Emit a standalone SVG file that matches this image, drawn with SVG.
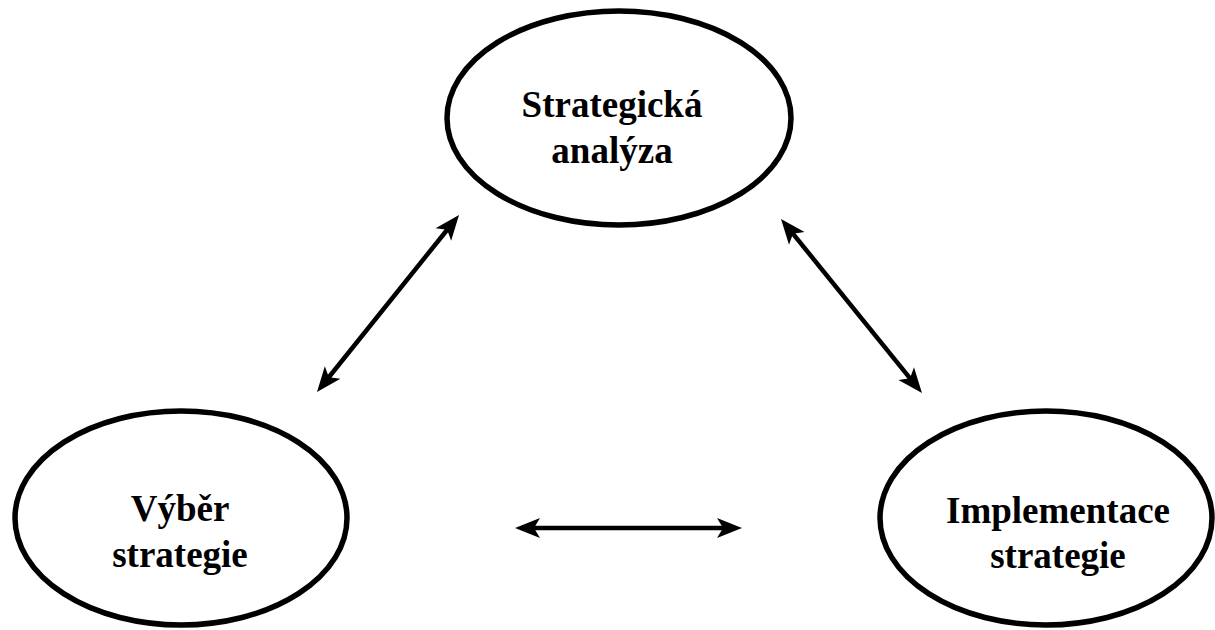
<svg xmlns="http://www.w3.org/2000/svg" width="1215" height="630" viewBox="0 0 1215 630">
<style>
.node ellipse{fill:#fff;stroke:#000;stroke-width:5.5}
.node text{font-family:"Liberation Serif","Times New Roman",serif;font-weight:bold;font-size:37px;fill:#000;text-anchor:middle}
.conn line{stroke:#000;stroke-width:4.5;marker-start:url(#ah);marker-end:url(#ah)}
</style>
<defs>
<marker id="ah" markerUnits="userSpaceOnUse" markerWidth="40" markerHeight="40" refX="0" refY="0" orient="auto-start-reverse" overflow="visible">
<path d="M16,0 L-9,-10 L-3,0 L-9,10 Z" fill="#000"/>
</marker>
</defs>
<rect width="1215" height="630" fill="#fff"/>
<g id="node-analyza" class="node">
<ellipse cx="619" cy="118" rx="172" ry="107"/>
<text x="612" y="117">Strategická</text>
<text x="612" y="163">analýza</text>
</g>
<g id="node-vyber" class="node">
<ellipse cx="181" cy="518" rx="166" ry="107"/>
<text x="180" y="521">Výběr</text>
<text x="180" y="567">strategie</text>
</g>
<g id="node-implementace" class="node">
<ellipse cx="1046" cy="518" rx="166" ry="107"/>
<text x="1058" y="523">Implementace</text>
<text x="1058" y="568">strategie</text>
</g>
<g id="connectors" class="conn">
<line x1="449" y1="227.5" x2="327" y2="379.5"/>
<line x1="791.1" y1="231.4" x2="911.9" y2="380.6"/>
<line x1="531" y1="528" x2="726" y2="528"/>
</g>
</svg>
